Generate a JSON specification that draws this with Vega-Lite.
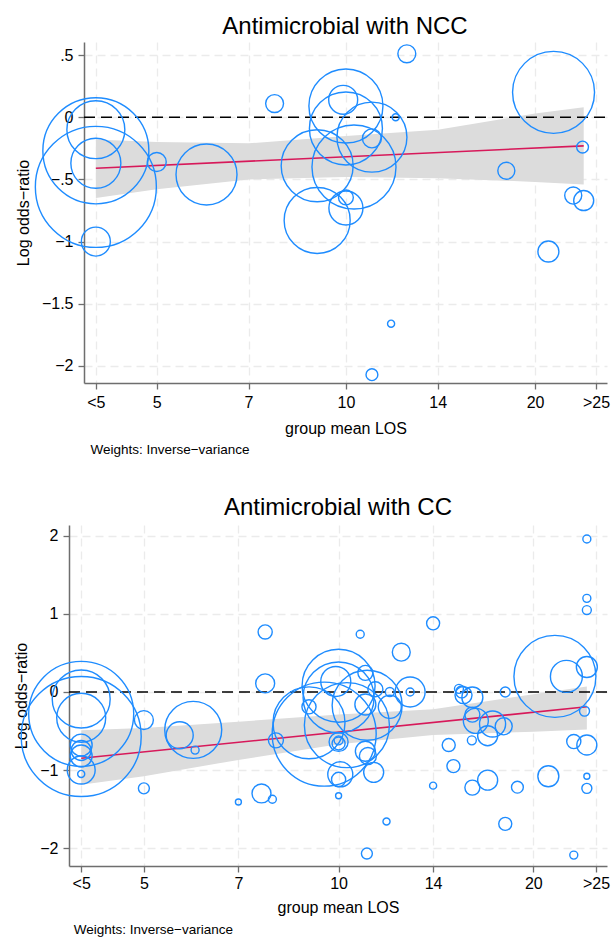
{
  "$schema": "https://vega.github.io/schema/vega-lite/v6.json",
  "padding": {"left": 13, "top": 15, "right": 2, "bottom": 0},
  "spacing": 39,
  "datasets": {
    "ncc_pts": [
      {"los": 4.0, "lor": -0.27, "w": 112.4},
      {"los": 4.0, "lor": -0.56, "w": 146.4},
      {"los": 4.0, "lor": -0.10, "w": 33.6},
      {"los": 4.0, "lor": -0.37, "w": 25.0},
      {"los": 4.0, "lor": -1.0, "w": 8.4},
      {"los": 5.0, "lor": -0.36, "w": 3.6},
      {"los": 6.0, "lor": -0.46, "w": 37.2},
      {"los": 7.7, "lor": 0.11, "w": 3.2},
      {"los": 12.5, "lor": 0.51, "w": 3.2},
      {"los": 21.4, "lor": 0.20, "w": 67.2},
      {"los": 23.8, "lor": -0.24, "w": 1.4},
      {"los": 18.0, "lor": -0.43, "w": 2.9},
      {"los": 23.0, "lor": -0.63, "w": 2.9},
      {"los": 23.9, "lor": -0.67, "w": 4.0},
      {"los": 12.0, "lor": 0.0, "w": 0.5},
      {"los": 10.0, "lor": 0.09, "w": 54.8},
      {"los": 9.9, "lor": 0.14, "w": 8.4},
      {"los": 10.0, "lor": -0.09, "w": 53.3},
      {"los": 11.0, "lor": -0.16, "w": 49.0},
      {"los": 11.0, "lor": -0.17, "w": 3.6},
      {"los": 9.0, "lor": -0.39, "w": 51.8},
      {"los": 10.3, "lor": -0.40, "w": 70.6},
      {"los": 9.0, "lor": -0.83, "w": 43.6},
      {"los": 10.0, "lor": -0.73, "w": 11.6},
      {"los": 10.0, "lor": -0.645, "w": 2.2},
      {"los": 21.0, "lor": -1.08, "w": 4.4},
      {"los": 11.8, "lor": -1.66, "w": 0.5},
      {"los": 11.0, "lor": -2.07, "w": 1.4}
    ],
    "ncc_band": [
      {"los": 4.0, "lo": -0.65, "hi": -0.18},
      {"los": 5.0, "lo": -0.58, "hi": -0.20},
      {"los": 7.0, "lo": -0.50, "hi": -0.21},
      {"los": 10.0, "lo": -0.48, "hi": -0.15},
      {"los": 14.0, "lo": -0.49, "hi": -0.10},
      {"los": 20.0, "lo": -0.52, "hi": 0.03},
      {"los": 23.9, "lo": -0.54, "hi": 0.08}
    ],
    "ncc_fit": [
      {"los": 4.0, "fit": -0.41},
      {"los": 23.9, "fit": -0.23}
    ],
    "cc_pts": [
      {"los": 4.0, "lor": -0.57, "w": 144.0},
      {"los": 4.0, "lor": -0.28, "w": 110.3},
      {"los": 4.0, "lor": -0.09, "w": 33.6},
      {"los": 4.0, "lor": -0.33, "w": 24.0},
      {"los": 4.0, "lor": -0.68, "w": 4.8},
      {"los": 4.0, "lor": -0.75, "w": 4.0},
      {"los": 4.0, "lor": -0.82, "w": 4.8},
      {"los": 4.0, "lor": -1.0, "w": 7.8},
      {"los": 4.0, "lor": -1.05, "w": 0.5},
      {"los": 5.0, "lor": -0.36, "w": 3.6},
      {"los": 5.0, "lor": -1.235, "w": 1.2},
      {"los": 5.96, "lor": -0.485, "w": 32.5},
      {"los": 5.68, "lor": -0.555, "w": 7.3},
      {"los": 6.0, "lor": -0.745, "w": 0.64},
      {"los": 7.0, "lor": -1.41, "w": 0.36},
      {"los": 7.6, "lor": -1.30, "w": 3.6},
      {"los": 7.9, "lor": -1.375, "w": 0.64},
      {"los": 8.0, "lor": -0.62, "w": 2.25},
      {"los": 7.7, "lor": 0.77, "w": 2.0},
      {"los": 7.7, "lor": 0.11, "w": 3.6},
      {"los": 10.8, "lor": 0.74, "w": 0.64},
      {"los": 12.5, "lor": 0.51, "w": 3.2},
      {"los": 14.0, "lor": 0.88, "w": 1.7},
      {"los": 10.0, "lor": 0.08, "w": 53.3},
      {"los": 9.9, "lor": 0.135, "w": 9.0},
      {"los": 10.0, "lor": -0.07, "w": 50.4},
      {"los": 11.07, "lor": -0.17, "w": 49.0},
      {"los": 11.0, "lor": 0.245, "w": 2.25},
      {"los": 9.0, "lor": -0.19, "w": 2.0},
      {"los": 11.4, "lor": 0.035, "w": 2.25},
      {"los": 12.0, "lor": 0.0, "w": 0.8},
      {"los": 12.9, "lor": 0.0, "w": 9.0},
      {"los": 12.9, "lor": 0.0, "w": 0.64},
      {"los": 11.0, "lor": -0.16, "w": 4.4},
      {"los": 12.0, "lor": -0.19, "w": 5.3},
      {"los": 9.0, "lor": -0.395, "w": 51.8},
      {"los": 10.3, "lor": -0.425, "w": 72.3},
      {"los": 9.5, "lor": -0.54, "w": 108.2},
      {"los": 10.0, "lor": -0.64, "w": 3.6},
      {"los": 10.0, "lor": -0.66, "w": 1.7},
      {"los": 10.0, "lor": -0.62, "w": 0.8},
      {"los": 11.0, "lor": -0.76, "w": 4.0},
      {"los": 11.1, "lor": -0.82, "w": 2.9},
      {"los": 10.06, "lor": -1.055, "w": 6.25},
      {"los": 10.0, "lor": -1.12, "w": 2.0},
      {"los": 10.0, "lor": -1.33, "w": 0.36},
      {"los": 11.33, "lor": -1.03, "w": 4.0},
      {"los": 11.86, "lor": -1.66, "w": 0.5},
      {"los": 11.06, "lor": -2.07, "w": 1.2},
      {"los": 14.8, "lor": -0.68, "w": 1.7},
      {"los": 15.05, "lor": -0.95, "w": 1.7},
      {"los": 14.0, "lor": -1.2, "w": 0.5},
      {"los": 16.1, "lor": -1.225, "w": 2.25},
      {"los": 17.0, "lor": -1.13, "w": 4.0},
      {"los": 16.07, "lor": -0.62, "w": 0.8},
      {"los": 18.9, "lor": -1.22, "w": 1.4},
      {"los": 18.1, "lor": -1.69, "w": 1.7},
      {"los": 21.1, "lor": -1.08, "w": 4.4},
      {"los": 24.2, "lor": -1.08, "w": 0.36},
      {"los": 24.2, "lor": -1.235, "w": 1.0},
      {"los": 23.1, "lor": -0.635, "w": 2.0},
      {"los": 24.2, "lor": -0.68, "w": 4.0},
      {"los": 23.1, "lor": -2.09, "w": 0.64},
      {"los": 24.0, "lor": -0.245, "w": 1.0},
      {"los": 24.2, "lor": 1.96, "w": 0.64},
      {"los": 24.2, "lor": 1.20, "w": 0.64},
      {"los": 24.2, "lor": 1.05, "w": 0.8},
      {"los": 21.6, "lor": 0.20, "w": 67.2},
      {"los": 22.5, "lor": 0.20, "w": 10.2},
      {"los": 24.2, "lor": 0.32, "w": 4.4},
      {"los": 18.1, "lor": 0.0, "w": 1.0},
      {"los": 15.35, "lor": 0.04, "w": 0.8},
      {"los": 15.5, "lor": 0.0, "w": 1.4},
      {"los": 15.6, "lor": -0.04, "w": 2.9},
      {"los": 16.1, "lor": -0.07, "w": 4.4},
      {"los": 16.1, "lor": -0.29, "w": 2.25},
      {"los": 17.3, "lor": -0.41, "w": 6.8},
      {"los": 16.3, "lor": -0.37, "w": 6.25},
      {"los": 17.0, "lor": -0.56, "w": 4.0},
      {"los": 18.0, "lor": -0.44, "w": 2.9}
    ],
    "cc_band": [
      {"los": 4.0, "lo": -1.19, "hi": -0.49},
      {"los": 5.0, "lo": -1.08, "hi": -0.46},
      {"los": 7.0, "lo": -0.87, "hi": -0.38},
      {"los": 10.0, "lo": -0.67, "hi": -0.29},
      {"los": 14.0, "lo": -0.55, "hi": -0.22},
      {"los": 20.0, "lo": -0.51, "hi": -0.03},
      {"los": 24.2, "lo": -0.48, "hi": 0.07}
    ],
    "cc_fit": [
      {"los": 4.0, "fit": -0.85},
      {"los": 24.2, "fit": -0.19}
    ],
    "ref": [{"ref": 0}]
  },
  "vconcat": [
    {
      "title": {"text": "Weights: Inverse−variance", "orient": "bottom", "anchor": "start", "fontSize": 13.5, "offset": 7, "dx": 75},
      "vconcat": [
        {
          "width": 538,
          "height": 341,
          "title": {"text": "Antimicrobial with NCC", "offset": 3, "dx": 7},
          "layer": [
            {
              "data": {"name": "ncc_band"},
              "mark": {"type": "area", "color": "#dcdcdc", "opacity": 1},
              "encoding": {
                "x": {"field": "los", "type": "quantitative", "scale": {"type": "log", "domain": [3.83, 26.03], "nice": false, "range": [15, 538]},
                  "axis": {"values": [4, 5, 7, 10, 14, 20, 25], "title": "group mean LOS", "labelExpr": "datum.value < 4.5 ? '<5' : datum.value > 24 ? '>25' : format(datum.value, 'd')"}},
                "y": {"field": "lo", "type": "quantitative", "scale": {"domain": [-2.137, 0.605], "nice": false, "zero": false},
                  "axis": {"values": [-2, -1.5, -1, -0.5, 0, 0.5], "title": "Log odds−ratio", "format": ".1~f", "labelExpr": "replace(datum.label, '0.', '.')", "offset": -15}},
                "y2": {"field": "hi"}
              }
            },
            {
              "data": {"name": "ref"},
              "mark": {"type": "rule", "color": "black", "strokeDash": [11, 6], "strokeWidth": 1.5},
              "encoding": {
                "y": {"field": "ref", "type": "quantitative"},
                "x": {"datum": 3.83, "type": "quantitative"},
                "x2": {"datum": 26.03}
              }
            },
            {
              "data": {"name": "ncc_fit"},
              "mark": {"type": "line", "color": "#d7195a", "strokeWidth": 1.6},
              "encoding": {
                "x": {"field": "los", "type": "quantitative"},
                "y": {"field": "fit", "type": "quantitative"}
              }
            },
            {
              "data": {"name": "ncc_pts"},
              "mark": {"type": "point", "shape": "circle", "filled": false, "color": "#1e8cff", "strokeWidth": 1.4, "opacity": 1},
              "encoding": {
                "x": {"field": "los", "type": "quantitative"},
                "y": {"field": "lor", "type": "quantitative"},
                "size": {"field": "w", "type": "quantitative", "scale": {"type": "linear", "domain": [0, 100], "range": [0, 10000]}, "legend": null}
              }
            }
          ]
        }
      ]
    },
    {
      "title": {"text": "Weights: Inverse−variance", "orient": "bottom", "anchor": "start", "fontSize": 13.5, "offset": 8, "dx": 60},
      "vconcat": [
        {
          "width": 538,
          "height": 341,
          "title": {"text": "Antimicrobial with CC", "offset": 5},
          "layer": [
            {
              "data": {"name": "cc_band"},
              "mark": {"type": "area", "color": "#dcdcdc", "opacity": 1},
              "encoding": {
                "x": {"field": "los", "type": "quantitative", "scale": {"type": "log", "domain": [3.83, 26.0], "nice": false},
                  "axis": {"values": [4, 5, 7, 10, 14, 20, 25], "title": "group mean LOS", "labelPadding": 3, "titlePadding": 8, "labelExpr": "datum.value < 4.5 ? '<5' : datum.value > 24 ? '>25' : format(datum.value, 'd')"}},
                "y": {"field": "lo", "type": "quantitative", "scale": {"domain": [-2.23, 2.14], "nice": false, "zero": false},
                  "axis": {"values": [-2, -1, 0, 1, 2], "title": "Log odds−ratio", "format": "d"}},
                "y2": {"field": "hi"}
              }
            },
            {
              "data": {"name": "ref"},
              "mark": {"type": "rule", "color": "black", "strokeDash": [11, 6], "strokeWidth": 1.5},
              "encoding": {"y": {"field": "ref", "type": "quantitative"}}
            },
            {
              "data": {"name": "cc_fit"},
              "mark": {"type": "line", "color": "#d7195a", "strokeWidth": 1.6},
              "encoding": {
                "x": {"field": "los", "type": "quantitative"},
                "y": {"field": "fit", "type": "quantitative"}
              }
            },
            {
              "data": {"name": "cc_pts"},
              "mark": {"type": "point", "shape": "circle", "filled": false, "color": "#1e8cff", "strokeWidth": 1.4, "opacity": 1},
              "encoding": {
                "x": {"field": "los", "type": "quantitative"},
                "y": {"field": "lor", "type": "quantitative"},
                "size": {"field": "w", "type": "quantitative", "scale": {"type": "linear", "domain": [0, 100], "range": [0, 10000]}, "legend": null}
              }
            }
          ]
        }
      ]
    }
  ],
  "config": {
    "font": "Liberation Sans",
    "view": {"stroke": null},
    "axis": {
      "labelFont": "Liberation Sans",
      "titleFont": "Liberation Sans",
      "labelFontSize": 16,
      "titleFontSize": 16,
      "titleFontWeight": "normal",
      "labelColor": "black",
      "titleColor": "black",
      "domainColor": "#6e6e6e",
      "domainWidth": 1.5,
      "tickColor": "#6e6e6e",
      "tickWidth": 1.3,
      "tickSize": 6,
      "gridColor": "#ebebeb",
      "gridDash": [8, 5],
      "gridWidth": 1.3,
      "labelOverlap": false,
      "labelFlush": false,
      "labelBound": false
    },
    "axisX": {"labelPadding": 5, "titlePadding": 10},
    "axisY": {"labelPadding": 5, "titlePadding": 10},
    "title": {"fontSize": 24, "fontWeight": "normal", "color": "black", "font": "Liberation Sans"}
  }
}
